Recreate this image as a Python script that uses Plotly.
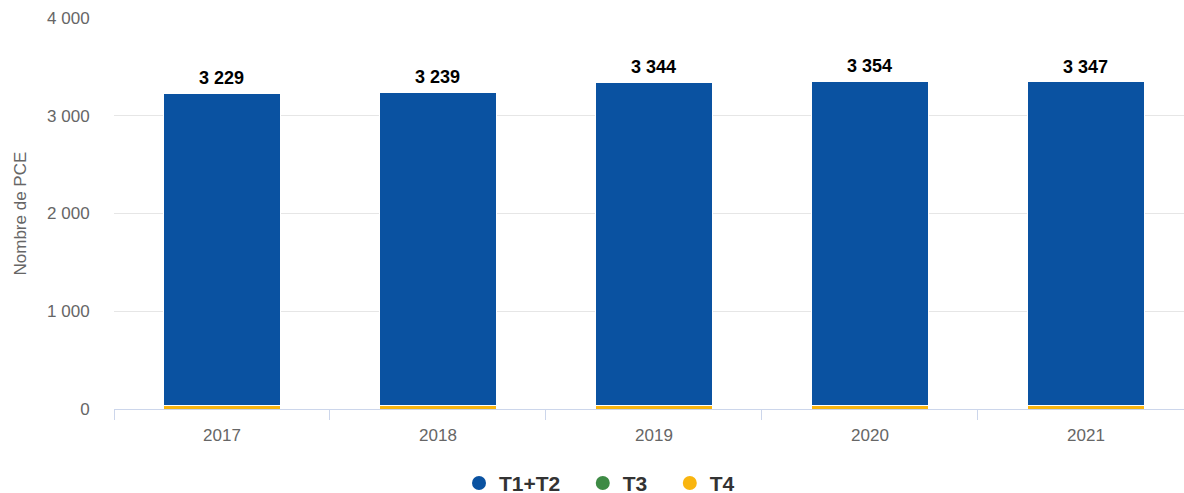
import plotly.graph_objects as go

years = ["2017", "2018", "2019", "2020", "2021"]
totals = [3229, 3239, 3344, 3354, 3347]
t4 = [32, 32, 32, 32, 32]
t3 = [3, 3, 3, 3, 3]
t12 = [tot - a - b for tot, a, b in zip(totals, t4, t3)]

c12, c3, c4 = "#0A52A1", "#3E8B45", "#F9B50F"
font = "Liberation Sans, Arial, Helvetica, sans-serif"

fig = go.Figure()
for name, vals, col in [("T4", t4, c4), ("T3", t3, c3), ("T1+T2", t12, c12)]:
    fig.add_trace(go.Bar(x=years, y=vals, name=name, marker=dict(color=col, line=dict(color="white", width=1)),
                         showlegend=False, hoverinfo="y+name"))
for name, col in [("T1+T2", c12), ("T3", c3), ("T4", c4)]:
    fig.add_trace(go.Scatter(x=[years[0]], y=[None], mode="markers", name=name + "&nbsp;&nbsp;&nbsp;",
                             marker=dict(symbol="circle", size=14, color=col)))

for i, tot in enumerate(totals):
    fig.add_annotation(x=i, y=tot, text="<b>" + f"{tot:,}".replace(",", " ") + "</b>",
                       showarrow=False, yanchor="bottom", yshift=3,
                       font=dict(family=font, size=18, color="#000000"))

fig.add_annotation(x=-94 / 1070, xref="paper", xanchor="center", y=0.5, yref="paper", text="Nombre de PCE",
                   showarrow=False, textangle=-90, font=dict(family=font, size=17, color="#666666"))

fig.update_layout(
    barmode="stack", bargap=0.458,
    width=1184, height=493,
    margin=dict(l=114, r=0, t=18, b=84, autoexpand=False),
    plot_bgcolor="white", paper_bgcolor="white",
    font=dict(family=font, size=17, color="#666666"),
    legend=dict(orientation="h", x=(459 - 114) / 1070, xanchor="left", y=-0.19, yanchor="middle",
                traceorder="normal",
                font=dict(family=font, size=21, color="#333333", weight="bold"),
                tracegroupgap=0),
    xaxis=dict(type="category", categoryorder="array", categoryarray=years, range=[-0.5, 4.454],
               showgrid=False, showline=True, linecolor="#CCD6EB", linewidth=1,
               ticks="outside", tickson="boundaries", ticklen=10, tickcolor="#CCD6EB",
               ticklabelstandoff=11,
               tickfont=dict(size=17, color="#666666"), automargin=False),
    yaxis=dict(range=[0, 4000], tickvals=[0, 1000, 2000, 3000, 4000],
               ticktext=["0", "1 000", "2 000", "3 000", "4 000"],
               gridcolor="#E6E6E6", zeroline=False, showline=False,
               ticks="outside", ticklen=20, tickcolor="rgba(0,0,0,0)",
               tickfont=dict(size=17, color="#666666"), automargin=False),
)
fig.write_html("out.html", config={"displayModeBar": False},
               post_script="document.body.style.margin='0px';document.body.style.overflow='hidden';")
